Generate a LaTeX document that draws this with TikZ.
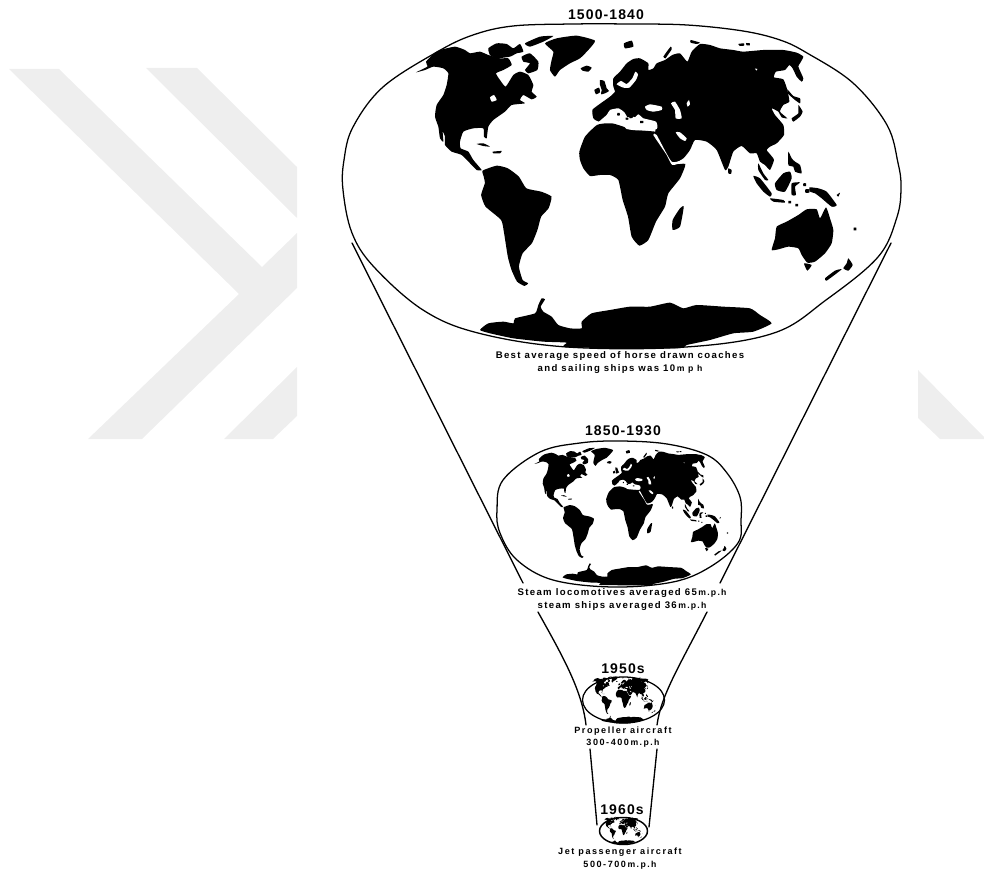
\documentclass[tikz,border=0pt]{standalone}
\usepackage{fontspec}
\newfontfamily\capf[LetterSpace=14]{Liberation Sans}
\newfontfamily\smlf[LetterSpace=17]{Liberation Sans}
\newfontfamily\titf[LetterSpace=8]{Liberation Sans}
\definecolor{wm}{HTML}{EEEEEE}
\tikzset{
  outline/.style={draw=black,line width=0.95pt,line join=round},
  funnel/.style={draw=black,line width=1pt,line cap=round},
  titletext/.style={inner sep=0pt,font=\titf\bfseries\fontsize{10.5}{12}\selectfont},
  captext/.style={inner sep=0pt,font=\capf\bfseries\fontsize{7.2}{8}\selectfont},
  smalltext/.style={inner sep=0pt,font=\smlf\bfseries\fontsize{6.8}{8}\selectfont}
}
\newcommand\mph[1]{{\fontsize{6.5}{8}\selectfont #1}}
\newcommand\blob[1]{\fill[black] plot[smooth cycle,tension=0.3] coordinates {#1};}
\newcommand\wblob[1]{\fill[white] plot[smooth cycle,tension=0.3] coordinates {#1};}
\newcommand\worldmap{%
 % frame A: North America, Greenland
 \begin{scope}[shift={(340,20)},xscale=0.3333,yscale=0.3333]
  \blob{(228,157) (262,140) (258,125) (285,98) (300,90) (345,80) (375,90) (390,100) (420,95) (445,105) (480,115) (505,115) (515,135) (490,150) (468,160) (480,180) (497,200) (520,165) (540,155) (565,165) (580,195) (575,215) (590,230) (575,238) (550,225) (540,240) (555,250) (515,255) (495,275) (460,300) (445,320) (440,355) (432,350) (430,325) (400,325) (370,335) (360,365) (362,385) (385,395) (400,420) (425,450) (410,450) (395,435) (365,405) (335,395) (315,375) (315,350) (308,335) (310,365) (300,355) (295,320) (285,290) (290,255) (310,225) (320,195) (325,160) (310,145) (280,140) (255,150)}
  \wblob{(450,232) (462,225) (470,240) (455,245)}
  \blob{(445,85) (470,70) (500,72) (520,85) (540,72) (550,95) (530,100) (510,110) (470,115) (450,105)}
  \blob{(545,110) (570,100) (595,125) (592,150) (565,160) (555,150) (570,130) (550,125)}
  \blob{(555,70) (600,50) (640,48) (610,65) (570,80)}
  \blob{(615,70) (650,55) (710,47) (765,62) (745,90) (720,115) (690,130) (660,150) (645,170) (630,150) (635,120) (640,95)}
  \blob{(722,145) (740,137) (755,143) (745,155) (728,152)}
  \blob{(410,372) (430,370) (450,380) (430,378)}
  \blob{(458,395) (485,393) (480,400) (460,400)}
 \end{scope}
 % frame B: Eurasia, Africa, British Isles
 \begin{scope}[shift={(600,20)},xscale=0.3333,yscale=0.3333]
  \blob{(40,175) (60,155) (80,130) (100,117) (120,115) (145,130) (145,150) (160,145) (170,130) (195,120) (217,105) (240,100) (262,125) (275,95) (300,72) (330,75) (360,85) (400,90) (430,95) (490,90) (550,90) (590,98) (610,110) (600,130) (595,140) (610,175) (605,185) (590,170) (578,145) (568,135) (555,150) (528,155) (522,172) (550,178) (562,210) (568,245) (550,255) (540,275) (562,295) (545,292) (535,275) (515,265) (525,285) (550,315) (552,345) (530,370) (510,380) (500,390) (512,405) (522,420) (510,450) (495,435) (480,425) (470,400) (450,400) (425,378) (400,395) (385,440) (375,450) (350,390) (320,365) (285,360) (270,390) (250,415) (218,430) (190,395) (165,345) (165,320) (100,290) (40,300) (-3,305) (-20,295) (-23,270) (-5,255) (30,230) (45,215) (40,200)}
  \blob{(-62,395) (-45,350) (-9,315) (30,308) (70,320) (110,330) (165,335) (172,345) (215,430) (256,432) (240,475) (205,520) (195,560) (168,605) (145,660) (118,677) (95,650) (84,590) (68,540) (55,480) (30,465) (0,465) (-30,468) (-50,445) (-60,420)}
  \wblob{(50,193) (70,203) (88,203) (108,180) (114,163) (106,155) (97,175) (80,192) (63,183)}
  \wblob{(135,260) (150,253) (185,260) (185,270) (160,275) (140,270)}
  \wblob{(213,250) (225,245) (240,270) (245,295) (227,295) (225,270)}
  \wblob{(260,250) (267,240) (270,253) (263,260)}
  \wblob{(227,337) (240,337) (260,355) (255,363) (240,355)}
  \wblob{(160,345) (170,345) (215,425) (260,417) (255,425) (217,435) (200,405)}
  \wblob{(-3,305) (20,285) (30,270) (55,265) (73,277) (87,300) (100,297) (115,283) (130,295) (168,305) (170,327) (110,331) (80,327) (67,313) (55,310) (-3,310)}
  \blob{(73,255) (85,265) (100,290) (90,295) (73,270)}
  \blob{(52,279) (59,279) (59,287) (52,287)}
  \blob{(77,293) (85,293) (85,299) (77,299)}
  \blob{(120,303) (130,303) (130,309) (120,309)}
  \blob{(72,70) (95,62) (100,80) (75,85)}
  \blob{(190,110) (212,80) (215,88) (200,110) (197,115)}
  \blob{(272,60) (300,68) (290,72) (272,68)}
  \blob{(415,72) (432,70) (432,77) (420,78)}
  \blob{(438,69) (450,70) (450,76) (440,76)}
  \blob{(562,208) (580,228) (600,235) (600,250) (585,240) (565,222)}
  \blob{(595,255) (608,275) (600,290) (580,305) (575,295) (595,280)}
  \wblob{(465,146) (472,147) (470,152)}
  \blob{(0,180) (13,183) (20,205) (27,213) (15,220) (3,223) (5,210) (0,195)}
  \blob{(-17,210) (-3,203) (0,217) (-12,223)}
 \end{scope}
 % frame C: islands and Australia
 \begin{scope}[shift={(720,150)},xscale=0.3333,yscale=0.3333]
  \blob{(155,300) (165,265) (170,230) (200,215) (235,195) (260,178) (290,178) (300,205) (318,172) (330,205) (340,240) (335,280) (315,310) (285,335) (262,338) (245,315) (235,295) (205,290) (175,298)}
  \blob{(252,340) (275,345) (262,362)}
  \blob{(385,325) (398,345) (385,362) (370,355) (380,340)}
  \blob{(365,358) (320,392) (315,385) (345,362)}
  \blob{(401,233) (409,233) (409,241) (401,241)}
  \blob{(268,112) (295,115) (320,125) (350,165) (335,170) (305,145) (285,130) (270,125)}
  \blob{(350,135) (360,128) (355,140)}
  \blob{(150,145) (190,150) (195,158) (160,155)}
  \blob{(205,153) (213,153) (213,160) (205,160)}
  \blob{(226,162) (234,162) (234,169) (226,169)}
  \blob{(215,100) (240,97) (225,110) (228,135) (215,135)}
  \blob{(165,100) (190,70) (210,65) (215,85) (195,125) (170,120)}
  \blob{(100,78) (120,85) (155,130) (150,140) (130,125) (110,100)}
  \blob{(115,40) (130,70) (145,90) (135,90) (115,60)}
  \blob{(205,5) (215,25) (225,35) (240,45) (245,70) (225,65) (220,50) (205,45)}
  \blob{(25,55) (35,60) (33,72) (25,70)}
  \blob{(250,100) (258,100) (258,108) (250,108)}
  \blob{(256,118) (268,118) (268,128) (256,128)}
 \end{scope}
 % frame D: South America, Madagascar
 \begin{scope}[shift={(330,0)},xscale=0.3704,yscale=0.3333]
  \blob{(412,512) (450,497) (480,505) (510,530) (530,565) (570,575) (598,590) (590,625) (570,650) (560,690) (545,730) (520,760) (510,800) (520,840) (535,850) (525,858) (505,845) (490,810) (480,770) (470,700) (462,660) (420,620) (408,585) (418,550) (415,530)}
  \blob{(945,625) (955,620) (945,680) (925,690) (925,660)}
 \end{scope}
 % frame E: Antarctica
 \begin{scope}[shift={(470,290)},xscale=0.3333,yscale=0.3333]
  \blob{(30,120) (55,100) (100,95) (130,100) (135,85) (195,70) (205,45) (215,25) (225,28) (212,50) (220,65) (245,80) (265,105) (300,115) (335,115) (335,95) (365,70) (420,60) (480,50) (540,50) (600,38) (640,55) (680,45) (760,50) (840,55) (870,75) (905,100) (850,125) (790,130) (720,150) (650,165) (620,175) (290,172) (290,158) (220,155) (130,145) (60,130)}
 \end{scope}
}
\begin{document}
\begin{tikzpicture}[x=0.75pt,y=-0.75pt]
\useasboundingbox (0,0) rectangle (984,873);
% background watermark
\fill[wm] (9,69) -- (59,69) -- (262,267) -- (297,233) -- (297,288) -- (142,439) -- (88,439) -- (239,294) -- cycle;
\fill[wm] (146,68) -- (197,68) -- (297,167) -- (297,218) -- cycle;
\fill[wm] (224,439) -- (273,439) -- (297,416) -- (297,367) -- cycle;
\fill[wm] (918,370) -- (984,437) -- (984,439) -- (940,439) -- (918,418) -- cycle;
% maps
\worldmap
\begin{scope}[shift={(625,514)},scale=0.44,shift={(-622,-186)}]\worldmap\end{scope}
\begin{scope}[shift={(622,699)},xscale=0.145,yscale=0.15,shift={(-622,-186)}]\worldmap\end{scope}
\begin{scope}[shift={(622,830)},scale=0.087,shift={(-622,-186)}]\worldmap\end{scope}
% outlines
\draw[outline] plot[smooth cycle,tension=0.6] coordinates {(343,190) (344,160) (353,127) (383,87) (437,52) (473,35) (513,26) (573,24) (630,24) (687,25) (743,31) (780,40) (807,53) (853,83) (887,125) (898,163) (901,187) (897,217) (878,257) (826,300) (774,333) (686,347) (567,347) (478,333) (423,310) (374,267) (352,233)};
\draw[outline] plot[smooth cycle,tension=0.6] coordinates {(497,510) (503,480) (540,452) (580,443) (620,441) (667,444) (707,455) (727,473) (740,497) (741,520) (738,543) (710,567) (673,582) (613,587) (553,580) (517,560) (500,533)};
\draw[outline] (623.5,700) ellipse [x radius=41,y radius=23];
\draw[outline,line width=1.1pt] (623.5,831) ellipse [x radius=24,y radius=13.5];
% funnel
\coordinate (a1) at (352,243); \coordinate (a2) at (523,583);
\coordinate (b1) at (891,243); \coordinate (b2) at (720,583);
\coordinate (c1) at (538,612); \coordinate (c2) at (586,725);
\coordinate (d1) at (707,612); \coordinate (d2) at (657,725);
\coordinate (e1) at (590,749); \coordinate (e2) at (597,825);
\coordinate (f1) at (657,749); \coordinate (f2) at (649,827);
\draw[funnel] (a1) -- (a2);
\draw[funnel] (b1) -- (b2);
\draw[funnel] (c1) .. controls (562,655) and (582,690) .. (c2);
\draw[funnel] (d1) .. controls (680,665) and (661,695) .. (d2);
\draw[funnel] (e1) -- (e2);
\draw[funnel] (f1) -- (f2);
% text
\node[titletext] (t1) at (606,15) {1500-1840};
\node[captext] (t1a) at (620,356) {Best average speed of horse drawn coaches};
\node[captext] (t1b) at (620,369) {and sailing ships was 10\,\mph{m p h}};
\node[titletext] (t2) at (623,431) {1850-1930};
\node[captext] (t2a) at (622,593) {Steam locomotives averaged 65\,\mph{m.p.h}};
\node[captext] (t2b) at (622,606) {steam ships averaged 36\,\mph{m.p.h}};
\node[titletext] (t3) at (623,669) {1950s};
\node[smalltext] (t3a) at (623,731) {Propeller aircraft};
\node[smalltext] (t3b) at (623,743) {300-400\,\mph{m.p.h}};
\node[titletext] (t4) at (622,810) {1960s};
\node[smalltext] (t4a) at (620,852) {Jet passenger aircraft};
\node[smalltext] (t4b) at (620,865) {500-700\,\mph{m.p.h}};
\end{tikzpicture}
\end{document}
